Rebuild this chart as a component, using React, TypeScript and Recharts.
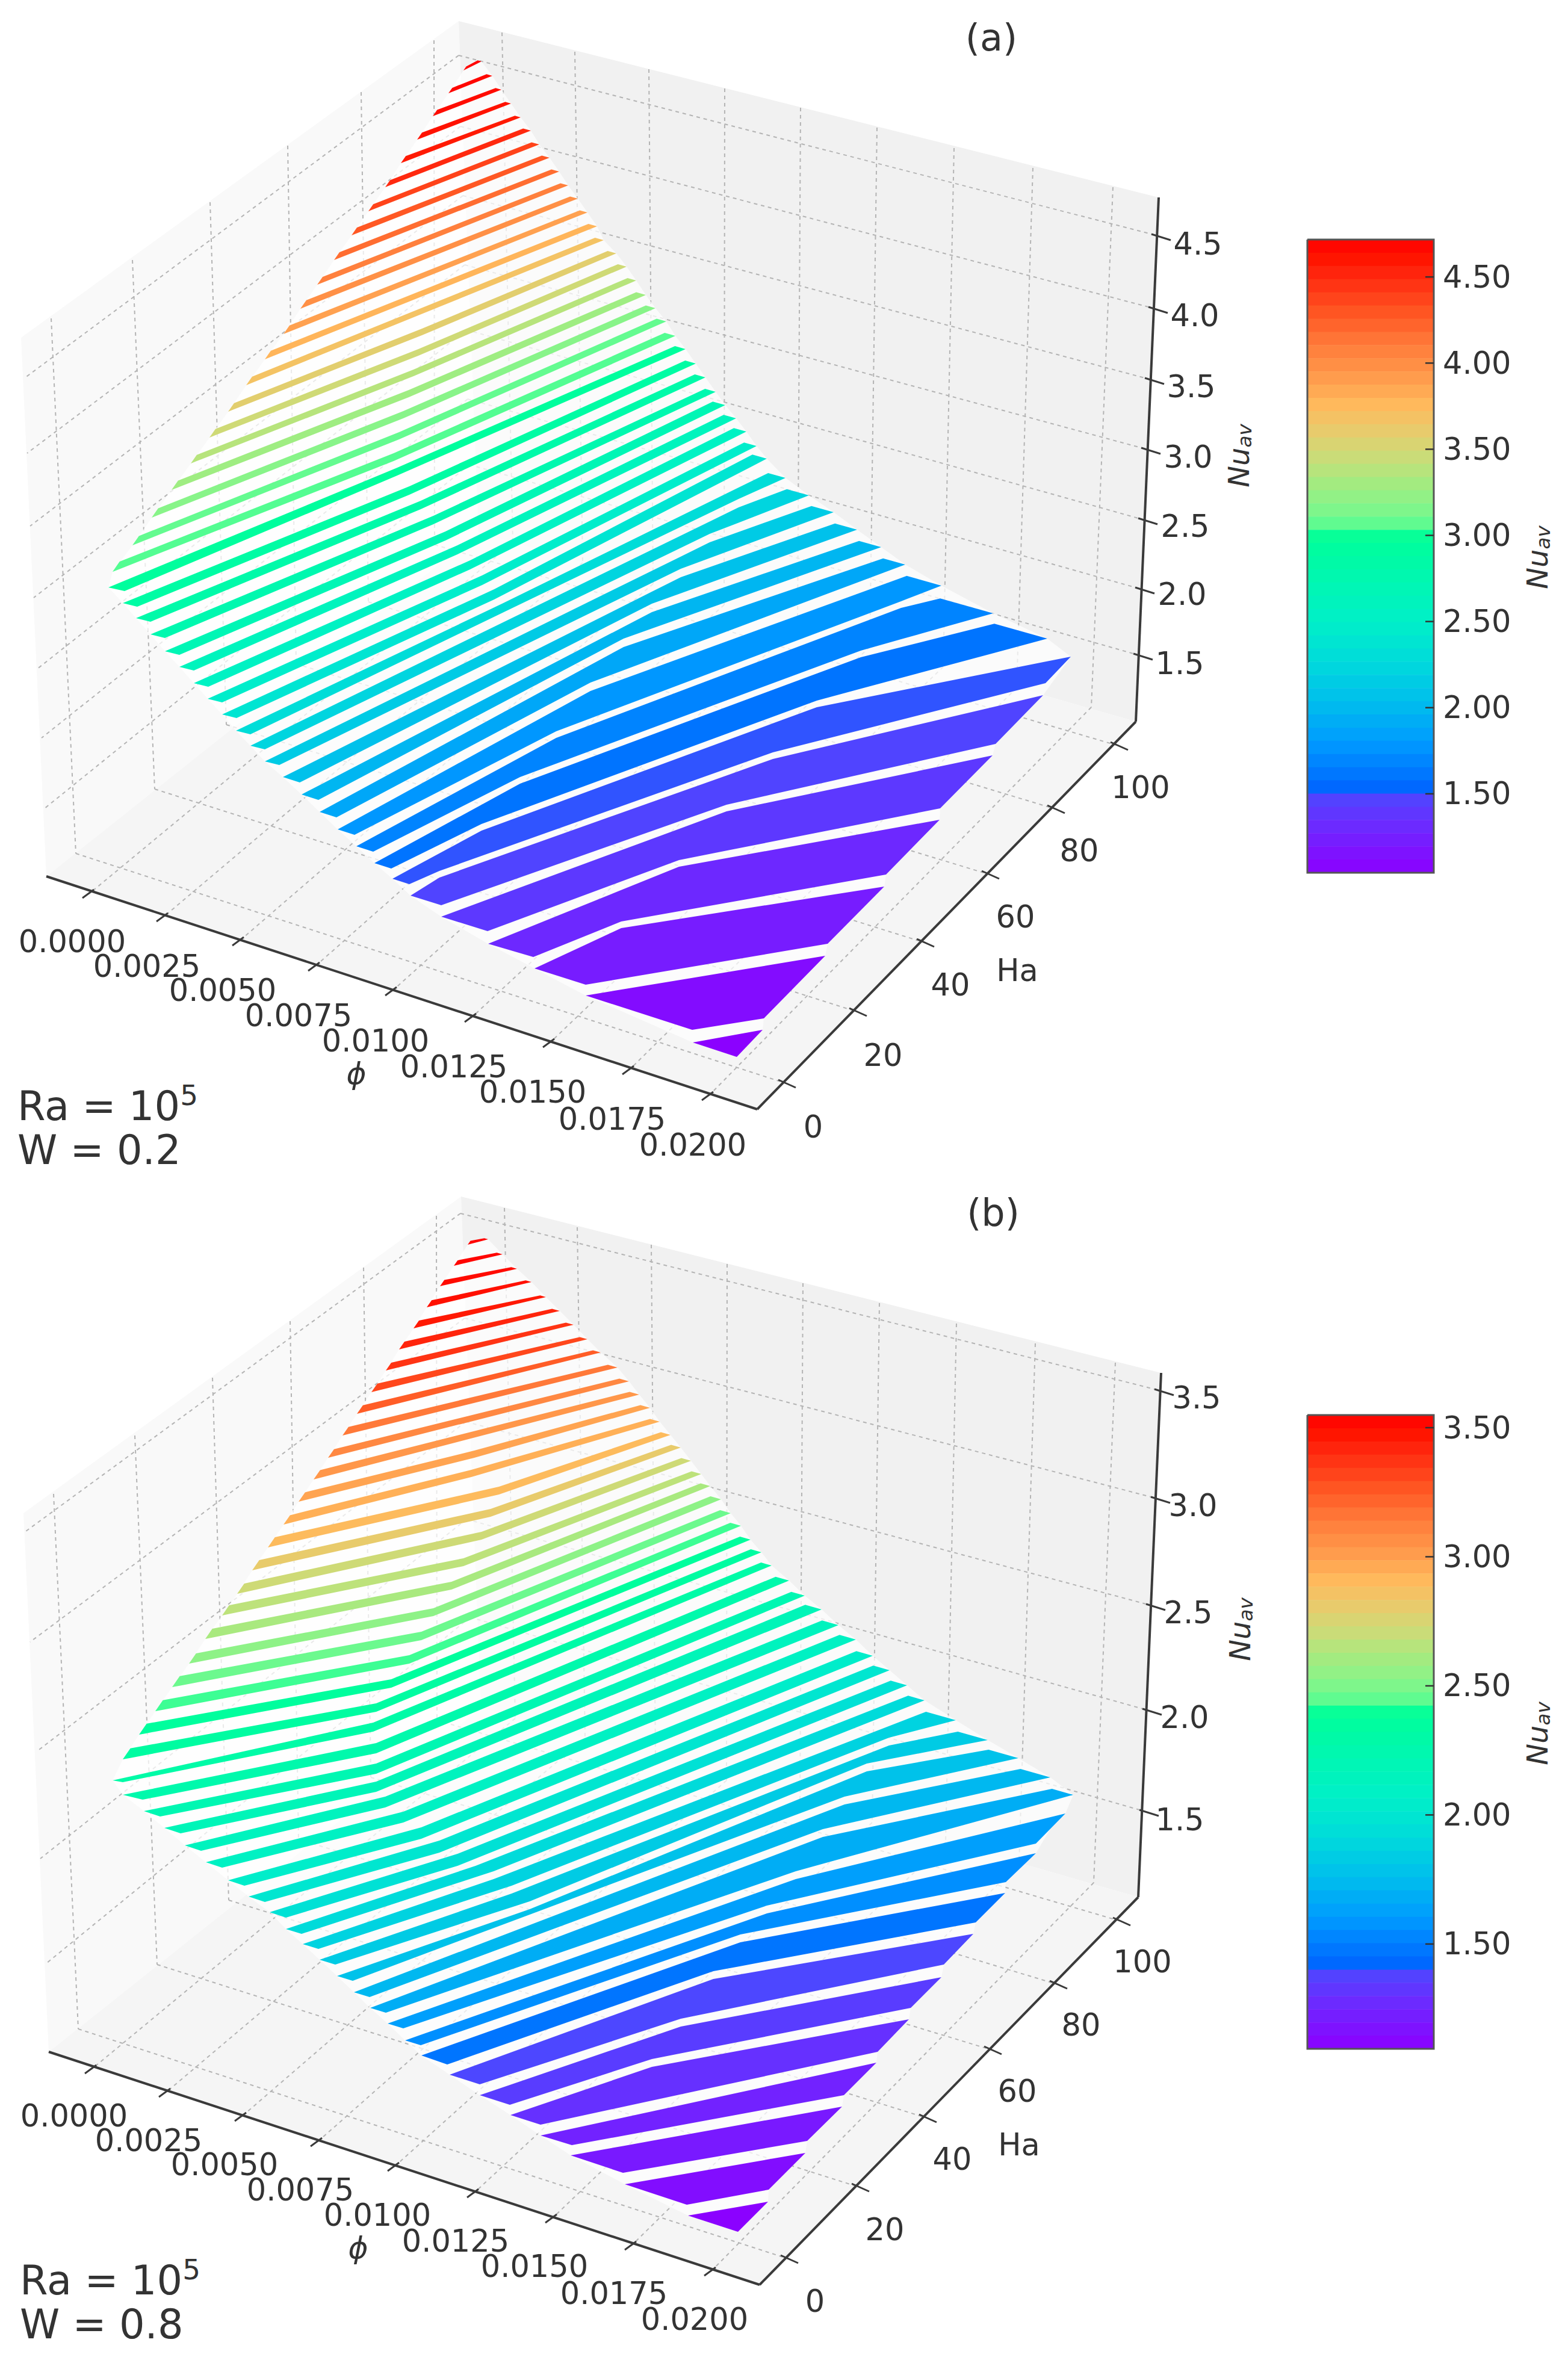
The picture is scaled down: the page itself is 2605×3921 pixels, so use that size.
import { ComposedChart, Area, Line, Scatter, XAxis, YAxis } from 'recharts';

type Pt = [number, number];
type Bend = [number, number, number];

const CANVAS_W = 2605;
const CANVAS_H = 3921;

// colormap: [fraction of bar from bottom, colour]
const colorStops: [number, string][] = [
  [0, '#8c00ff'], [0.077, '#6a2cff'], [0.129, '#4a4aff'], [0.132, '#0066ff'], [0.202, '#0098ff'],
  [0.258, '#00b8f0'], [0.327, '#00d8dd'], [0.397, '#00f0c8'], [0.53, '#00ff99'], [0.544, '#55fd92'],
  [0.578, '#85f58a'], [0.62, '#a8ea7f'], [0.655, '#c9dd78'], [0.704, '#ecc96a'], [0.739, '#ffb95c'],
  [0.774, '#ffa04f'], [0.836, '#ff7a3a'], [0.885, '#ff5522'], [0.94, '#ff2a10'], [0.969, '#ff1500'], [1, '#ff0000'],
];

// panel (a): stripes of the surface, projected onto the page
const leftTipsA: Pt[] = [
  [770, 117], [745, 155], [719, 193], [693, 232], [666, 271], [640, 311], [612, 351], [584, 391], [555, 432], [527, 473],
  [499, 513], [471, 555], [440, 597], [409, 640], [379, 684], [348, 727], [317, 770], [285, 814], [252, 860], [220, 906],
  [187, 950], [180, 976], [204, 1002], [226, 1027], [250, 1054], [274, 1082], [298, 1108], [322, 1135], [345, 1161], [369, 1187],
  [392, 1214], [416, 1239], [440, 1265], [470, 1291], [501, 1320], [531, 1349], [561, 1378], [592, 1406], [622, 1434], [652, 1460],
  [682, 1488], [733, 1523], [811, 1568], [888, 1609], [973, 1654], [1151, 1732],
];
const rightTipsA: Pt[] = [
  [800, 102], [818, 126], [833, 149], [849, 172], [865, 195], [882, 217], [896, 240], [913, 262], [929, 285], [944, 308],
  [960, 330], [976, 353], [992, 376], [1003, 399], [1024, 421], [1041, 443], [1057, 466], [1073, 490], [1089, 512], [1107, 534],
  [1122, 558], [1139, 580], [1156, 604], [1172, 627], [1189, 651], [1205, 673], [1223, 695], [1240, 717], [1257, 741], [1274, 762],
  [1305, 794], [1344, 823], [1385, 851], [1424, 880], [1464, 909], [1504, 938], [1564, 973], [1650, 1019], [1740, 1061], [1779, 1091],
  [1733, 1155], [1649, 1255], [1561, 1362], [1469, 1473], [1371, 1588], [1267, 1711],
];
const leftCutsA: Record<number, Pt> = {
  21: [27, 6], 22: [24, 6], 23: [24, 6], 24: [24, 6], 25: [24, 6], 26: [24, 6], 27: [24, 6], 28: [24, 6], 29: [24, 6], 30: [24, 6],
  31: [24, 6], 32: [24, 6], 33: [28, 9], 34: [28, 9], 35: [28, 9], 36: [28, 9], 37: [28, 9], 38: [28, 9], 39: [28, 9],
  40: [51, 16], 41: [77, 24], 42: [75, 22], 43: [85, 27], 44: [177, 57], 45: [73, 24],
};
const rightCutsA: Record<number, Pt> = {
  39: [1737, 1135], 40: [1654, 1236], 41: [1562, 1343], 42: [1472, 1453], 43: [1375, 1568], 44: [1269, 1692],
};
const thickLeftA = [5, 7, 8, 9, 9, 9, 9, 10, 10, 10, 11, 11, 11, 11, 11, 11, 11, 12, 12, 12, 13];
const thickRightA = [
  4, 6, 6, 6, 6, 8, 8, 8, 8, 8, 8, 8, 9, 9, 9, 9, 9, 10, 10, 10, 11, 11, 11, 11, 11, 13, 13, 13, 13, 15,
  18, 23, 23, 23, 23, 23, 36, 55, 55, 0, 0, 0, 0, 0, 0, 0,
];
const bendsA: Bend[][] = [
  [], [], [], [], [], [], [], [], [], [], [], [], [], [],
  [[701, 546, 11]], [[695, 580, 11]], [[687, 614, 11]], [[679, 648, 12]], [[670, 683, 12]], [[663, 718, 12]],
  [[654, 753, 13]], [[660, 777, 13]], [[680, 808, 14]], [[699, 832, 14]], [[720, 857, 14]], [[740, 883, 15]],
  [[760, 906, 15]], [[781, 931, 15]], [[801, 956, 16]], [[821, 979, 17]], [[834, 1003, 18]],
  [[1227, 843, 22]], [[1179, 901, 23]], [[1131, 959, 24]], [[1083, 1017, 25]], [[1036, 1075, 26]], [[981, 1148, 32]],
  [[924, 1226, 34], [1497, 1010, 48]], [[864, 1302, 36], [1430, 1092, 50]], [[800, 1380, 36], [1357, 1175, 43]],
  [[730, 1458, 46], [1284, 1261, 45]], [[1207, 1348, 50]], [[1128, 1440, 58]], [[1032, 1542, 62]], [], [],
];
// white gap kept to the next stripe where the stripes nearly touch
const gapsA: Record<number, number> = {
  30: 14, 31: 14, 32: 14, 33: 14, 34: 14, 35: 14, 36: 11, 37: 11, 38: 11, 39: 11, 40: 11, 41: 11, 42: 11, 43: 11,
};
const nuA = [
  4.7, 4.68, 4.65, 4.62, 4.58, 4.5, 4.38, 4.28, 4.18, 4.08, 3.98, 3.88, 3.78, 3.68, 3.58, 3.48, 3.38, 3.28, 3.18, 3.08,
  3.04, 2.95, 2.88, 2.82, 2.76, 2.7, 2.62, 2.55, 2.47, 2.38, 2.3, 2.22, 2.14, 2.06, 1.98, 1.88, 1.78, 1.68, 1.6, 1.52,
  1.48, 1.4, 1.3, 1.22, 1.12, 1.05,
];

// panel (b)
const leftTipsB: Pt[] = [
  [777, 2068], [754, 2103], [731, 2137], [709, 2172], [687, 2207], [663, 2242], [641, 2277], [617, 2313], [593, 2349], [569, 2385],
  [545, 2422], [521, 2458], [496, 2495], [471, 2533], [445, 2571], [419, 2609], [394, 2648], [369, 2684], [341, 2723], [314, 2764],
  [286, 2803], [258, 2843], [231, 2882], [204, 2923], [187, 2958], [204, 2982], [239, 3009], [273, 3037], [307, 3066], [342, 3094],
  [379, 3124], [413, 3151], [448, 3177], [475, 3205], [503, 3230], [531, 3256], [560, 3283], [588, 3310], [615, 3336], [644, 3362],
  [673, 3390], [700, 3415], [747, 3447], [797, 3481], [848, 3514], [898, 3548], [948, 3581], [1038, 3629], [1143, 3681],
];
const rightTipsB: Pt[] = [
  [811, 2059], [835, 2084], [859, 2108], [883, 2130], [907, 2155], [930, 2178], [953, 2201], [976, 2225], [998, 2247], [1026, 2272],
  [1045, 2295], [1062, 2317], [1080, 2339], [1096, 2362], [1114, 2384], [1131, 2405], [1148, 2427], [1165, 2449], [1180, 2469], [1198, 2491],
  [1214, 2514], [1231, 2535], [1247, 2558], [1265, 2579], [1282, 2601], [1311, 2626], [1337, 2651], [1365, 2674], [1393, 2700], [1422, 2724],
  [1450, 2751], [1478, 2775], [1507, 2800], [1536, 2825], [1588, 2858], [1641, 2891], [1692, 2921], [1745, 2953], [1783, 2982], [1770, 3013],
  [1721, 3079], [1670, 3145], [1617, 3213], [1564, 3285], [1510, 3355], [1456, 3427], [1399, 3500], [1338, 3577], [1276, 3658],
];
const leftCutsB: Record<number, Pt> = {
  24: [17, 3], 25: [33, 8], 26: [27, 9], 27: [27, 9], 28: [27, 9], 29: [27, 9], 30: [27, 9], 31: [27, 9], 32: [27, 9],
  33: [26, 8], 34: [26, 8], 35: [26, 8], 36: [26, 8], 37: [26, 8], 38: [26, 8], 39: [26, 8], 40: [26, 8],
  41: [43, 15], 42: [50, 16], 43: [50, 16], 44: [50, 16], 45: [52, 16], 46: [87, 29], 47: [103, 34], 48: [83, 27],
};
const rightCutsB: Record<number, Pt> = {
  39: [1721, 3063], 40: [1671, 3127], 41: [1621, 3194], 42: [1568, 3264], 43: [1513, 3336], 44: [1458, 3409],
  45: [1402, 3481], 46: [1341, 3557], 47: [1277, 3638],
};
const thickLeftB = [5, 7, 8, 9, 10, 10, 10, 11, 11, 11, 11, 12, 12, 12, 13, 13, 13, 13, 13, 13, 14, 14, 14, 14];
const thickRightB = [
  4, 6, 6, 6, 6, 8, 8, 8, 8, 10, 10, 10, 10, 10, 10, 10, 10, 10, 10, 11, 11, 11, 11, 11, 11, 14, 14, 17, 17, 17,
  17, 17, 17, 17, 31, 31, 31, 31, 22, 0, 0, 0, 0, 0, 0, 0, 0, 0, 0,
];
const bendsB: Bend[][] = [
  [], [], [], [], [], [], [], [], [], [], [], [],
  [[788, 2410, 12]], [[783, 2442, 12]], [[829, 2470, 13]], [[815, 2507, 13]], [[800, 2545, 13]],
  [[770, 2589, 13]], [[750, 2628, 13]], [[720, 2672, 13]], [[700, 2711, 14]], [[680, 2750, 14]], [[650, 2790, 14]],
  [[625, 2830, 14]], [[620, 2862, 15]], [[625, 2896, 17]], [[625, 2930, 17]], [[625, 2960, 17]], [[640, 2985, 18]], [[670, 3010, 18]],
  [[700, 3036, 19]], [[730, 3058, 20]], [[760, 3080, 20]], [[790, 3100, 21]], [[820, 3122, 24]],
  [[850, 3146, 26], [1477, 2900, 30]], [[880, 3172, 25], [1440, 2943, 34]], [[1403, 2998, 34]], [[1367, 3052, 34]], [[1322, 3122, 36]],
  [[1274, 3179, 36]], [[1230, 3227, 36]], [[1185, 3288, 38]], [[1131, 3367, 38]], [[1083, 3434, 40]], [], [], [], [],
];
const gapsB: Record<number, number> = {
  33: 13, 34: 13, 35: 13, 36: 13, 37: 13, 38: 13, 39: 13, 40: 13, 41: 13, 42: 13, 43: 13, 44: 13, 45: 13, 46: 13, 47: 13,
};
const nuB = [
  3.54, 3.53, 3.51, 3.49, 3.46, 3.42, 3.37, 3.31, 3.24, 3.15, 3.09, 3.03, 2.98, 2.94, 2.9, 2.81, 2.72, 2.67, 2.62, 2.54,
  2.47, 2.42, 2.37, 2.34, 2.3, 2.26, 2.22, 2.18, 2.14, 2.1, 2.05, 2.0, 1.96, 1.92, 1.87, 1.83, 1.78, 1.73, 1.68, 1.62,
  1.56, 1.47, 1.4, 1.35, 1.3, 1.24, 1.2, 1.15, 1.1,
];

// 3D frame of panel (a); panel (b) is the same frame moved down the page
const paneLeft: Pt[] = [[762, 35], [35, 561], [77, 1456], [795, 885]];
const paneRight: Pt[] = [[762, 35], [1925, 328], [1887, 1199], [795, 885]];
const paneFloor: Pt[] = [[77, 1456], [795, 885], [1887, 1199], [1258, 1843]];
const leftWallTops: Pt[] = [[85, 529], [220, 432], [349, 336], [478, 242], [600, 153], [721, 67]];
const haFloorBack: Pt[] = [[126, 1418], [257, 1311], [376, 1204], [492, 1103], [612, 1000], [722, 905]];
const rightWallTops: Pt[] = [[834, 54], [955, 86], [1078, 115], [1204, 147], [1330, 179], [1457, 212], [1585, 246], [1716, 279], [1849, 311]];
const phiFloorBack: Pt[] = [[852, 902], [968, 935], [1085, 970], [1203, 1005], [1325, 1040], [1445, 1075], [1567, 1108], [1689, 1143], [1813, 1175]];
const phiAxisTicks: Pt[] = [[148, 1485], [271, 1524], [397, 1564], [523, 1606], [651, 1647], [783, 1691], [913, 1733], [1045, 1778], [1177, 1821]];
const haAxisTicks: Pt[] = [[1306, 1800], [1424, 1681], [1536, 1566], [1644, 1453], [1753, 1344], [1858, 1239]];

const nuGridLeftA: Pt[] = [[41, 628], [45, 753], [50, 874], [56, 993], [61, 1112], [69, 1226], [73, 1344]];
const nuGridBackA: Pt[] = [[762, 92], [765, 210], [769, 325], [772, 440], [775, 548], [777, 663], [780, 772]];
const nuGridRightA: Pt[] = [[1913, 389], [1908, 510], [1902, 628], [1896, 744], [1891, 861], [1886, 976], [1883, 1086]];
const nuGridLeftB: Pt[] = [[43, 2544], [50, 2728], [61, 2910], [67, 3088], [77, 3262]];
const nuGridBackB: Pt[] = [[765, 2016], [772, 2190], [774, 2362], [775, 2524], [781, 2687]];
const nuGridRightB: Pt[] = [[1918, 2308], [1912, 2487], [1904, 2665], [1898, 2839], [1893, 3007]];

// tick labels
const phiLabels = ['0.0000', '0.0025', '0.0050', '0.0075', '0.0100', '0.0125', '0.0150', '0.0175', '0.0200'];
const phiLabelAt: Pt[] = [[120, 1564], [244, 1605], [370, 1645], [496, 1687], [624, 1729], [754, 1772], [885, 1814], [1017, 1859], [1151, 1902]];
const haLabels = ['0', '20', '40', '60', '80', '100'];
const haLabelAt: Pt[] = [[1351, 1872], [1467, 1753], [1579, 1636], [1687, 1523], [1793, 1413], [1895, 1308]];
const nuLabelsA = ['4.5', '4.0', '3.5', '3.0', '2.5', '2.0', '1.5'];
const nuLabelAtA: Pt[] = [[1990, 405], [1985, 524], [1979, 642], [1974, 759], [1969, 874], [1964, 987], [1960, 1102]];
const nuLabelsB = ['3.5', '3.0', '2.5', '2.0', '1.5'];
const nuLabelAtB: Pt[] = [[1988, 2322], [1982, 2501], [1974, 2679], [1968, 2853], [1960, 3023]];

const barTicksA = [4.5, 4.0, 3.5, 3.0, 2.5, 2.0, 1.5];
const barTicksB = [3.5, 3.0, 2.5, 2.0, 1.5];
const barRangeA: Pt = [1.042, 4.717];
const barRangeB: Pt = [1.094, 3.549];

const FRAME_B: Pt = [4, 1953];
const LABEL_B: Pt = [3, 1951];

const hexToRgb = (h: string) => [1, 3, 5].map((i) => parseInt(h.slice(i, i + 2), 16));

function colorAt(t: number) {
  const v = Math.max(0, Math.min(1, t));
  for (let i = 1; i < colorStops.length; i++) {
    if (v <= colorStops[i][0]) {
      const [t0, c0] = colorStops[i - 1];
      const [t1, c1] = colorStops[i];
      const f = (v - t0) / (t1 - t0);
      const a = hexToRgb(c0);
      const b = hexToRgb(c1);
      return `rgb(${a.map((x, k) => Math.round(x + (b[k] - x) * f)).join(',')})`;
    }
  }
  return colorStops[colorStops.length - 1][1];
}

// an Area can only fill between two y values per x, so cut a polygon into upper and lower chains
function polygonToBand(poly: Pt[]) {
  const n = poly.length;
  let lo = 0;
  let hi = 0;
  poly.forEach((p, i) => {
    if (p[0] < poly[lo][0]) lo = i;
    if (p[0] > poly[hi][0]) hi = i;
  });
  const walk = (step: number) => {
    const chain: Pt[] = [poly[lo]];
    let i = lo;
    while (i !== hi) {
      i = (i + step + n) % n;
      chain.push(poly[i]);
    }
    return chain;
  };
  const yOn = (chain: Pt[], x: number) => {
    for (let i = 1; i < chain.length; i++) {
      const [x0, y0] = chain[i - 1];
      const [x1, y1] = chain[i];
      if (x1 !== x0 && x >= x0 && x <= x1) return y0 + ((y1 - y0) * (x - x0)) / (x1 - x0);
    }
    return chain[chain.length - 1][1];
  };
  const a = walk(1);
  const b = walk(-1);
  const xs = Array.from(new Set(poly.map((p) => p[0]))).sort((p, q) => p - q);
  return xs.map((px) => {
    const y0 = yOn(a, px);
    const y1 = yOn(b, px);
    return { px, band: [Math.min(y0, y1), Math.max(y0, y1)] };
  });
}

interface PanelStripes {
  lefts: Pt[];
  rights: Pt[];
  leftCuts: Record<number, Pt>;
  rightCuts: Record<number, Pt>;
  thickLeft: number[];
  thickRight: number[];
  bends: Bend[][];
  gaps: Record<number, number>;
  nu: number[];
  range: Pt;
}

function stripeOutline(s: PanelStripes, i: number): Pt[] {
  const L = s.lefts[i];
  const R = s.rights[i];
  const cut = s.leftCuts[i];
  const bend = s.bends[i] ?? [];
  const rc = s.rightCuts[i];
  const tr = s.thickRight[i] ?? 0;
  const poly: Pt[] = [L];
  if (!cut) {
    const t = s.thickLeft[i] ?? 10;
    poly.push([L[0] + 0.9 * t, L[1] - 1.3 * t]);
  }
  bend.forEach(([x, y]) => poly.push([x, y]));
  if (!rc && tr > 0) poly.push([R[0] - 1.6 * tr, R[1] - 0.45 * tr]);
  poly.push(R);
  if (rc) poly.push(rc);
  const gap = s.gaps[i];
  if (gap !== undefined) {
    // lower edge follows the top edge of the stripe below it
    const xMin = (cut ? L[0] + cut[0] : L[0]) + 4;
    const xMax = (rc ? rc[0] : R[0]) - 4;
    const under = (s.bends[i + 1] ?? []).filter(([x]) => x > xMin && x < xMax);
    [...under].reverse().forEach(([x, y]) => poly.push([x, y - gap]));
  } else {
    [...bend].reverse().forEach(([x, y, t]) => poly.push([x, y + t]));
  }
  if (cut) poly.push([L[0] + cut[0], L[1] + cut[1]]);
  return poly;
}

function surfaceOutline(s: PanelStripes): Pt[] {
  const corner = s.lefts.reduce((best, p, i) => (p[0] < s.lefts[best][0] ? i : best), 0);
  const far = s.rights.reduce((best, p, i) => (p[0] > s.rights[best][0] ? i : best), 0);
  const poly: Pt[] = [];
  for (let i = corner; i >= 0; i--) poly.push(s.lefts[i]);
  for (let i = 0; i <= far; i++) poly.push(s.rights[i]);
  for (let i = far + 1; i < s.rights.length; i++) {
    poly.push(s.rights[i]);
    if (s.rightCuts[i]) poly.push(s.rightCuts[i]);
  }
  for (let i = s.lefts.length - 1; i > corner; i--) poly.push(s.lefts[i]);
  return poly;
}

const stripesA: PanelStripes = {
  lefts: leftTipsA, rights: rightTipsA, leftCuts: leftCutsA, rightCuts: rightCutsA,
  thickLeft: thickLeftA, thickRight: thickRightA, bends: bendsA, gaps: gapsA, nu: nuA, range: barRangeA,
};
const stripesB: PanelStripes = {
  lefts: leftTipsB, rights: rightTipsB, leftCuts: leftCutsB, rightCuts: rightCutsB,
  thickLeft: thickLeftB, thickRight: thickRightB, bends: bendsB, gaps: gapsB, nu: nuB, range: barRangeB,
};

const shift = (p: Pt, d: Pt): Pt => [p[0] + d[0], p[1] + d[1]];

function poly(key: string, pts: Pt[], fill: string, z: number, opacity = 1) {
  return (
    <Area
      key={key}
      data={polygonToBand(pts)}
      dataKey="band"
      type="linear"
      stroke="none"
      fill={fill}
      fillOpacity={opacity}
      dot={false}
      activeDot={false}
      isAnimationActive={false}
      zIndex={z}
    />
  );
}

function seg(key: string, pts: Pt[], color: string, width: number, z: number, dash?: string) {
  return (
    <Line
      key={key}
      data={pts.map(([px, py]) => ({ px, py }))}
      dataKey="py"
      type="linear"
      stroke={color}
      strokeWidth={width}
      strokeDasharray={dash}
      dot={false}
      activeDot={false}
      isAnimationActive={false}
      zIndex={z}
    />
  );
}

const GRID = '#b4b4b4';
const INK = '#3a3a3a';

function framePanel(id: string, d: Pt, nuLeft: Pt[], nuBack: Pt[], nuRight: Pt[]) {
  const m = (p: Pt) => shift(p, d);
  const out: JSX.Element[] = [
    poly(`${id}-pl`, paneLeft.map(m), '#f9f9f9', 10),
    poly(`${id}-pr`, paneRight.map(m), '#f1f1f1', 10),
    poly(`${id}-pf`, paneFloor.map(m), '#f5f5f5', 11),
  ];
  leftWallTops.forEach((p, i) => out.push(seg(`${id}-lw${i}`, [m(p), m(haFloorBack[i])], GRID, 2, 20, '6 6')));
  haFloorBack.forEach((p, i) => out.push(seg(`${id}-hf${i}`, [m(p), m(haAxisTicks[i])], GRID, 2, 20, '6 6')));
  rightWallTops.forEach((p, i) => out.push(seg(`${id}-rw${i}`, [m(p), m(phiFloorBack[i])], GRID, 2, 20, '6 6')));
  phiFloorBack.forEach((p, i) => out.push(seg(`${id}-pf${i}`, [m(p), m(phiAxisTicks[i])], GRID, 2, 20, '6 6')));
  nuBack.forEach((p, i) => {
    out.push(seg(`${id}-nl${i}`, [p, nuLeft[i]], GRID, 2, 20, '6 6'));
    out.push(seg(`${id}-nr${i}`, [p, nuRight[i]], GRID, 2, 20, '6 6'));
    out.push(seg(`${id}-nt${i}`, [nuRight[i], [nuRight[i][0] + 32, nuRight[i][1] + 10]], INK, 3, 50));
  });
  phiAxisTicks.forEach((p, i) => {
    const q = m(p);
    out.push(seg(`${id}-pt${i}`, [[q[0] - 11, q[1] + 7], [q[0] + 8, q[1] - 7]], INK, 3, 50));
  });
  haAxisTicks.forEach((p, i) => {
    const q = m(p);
    out.push(seg(`${id}-ht${i}`, [[q[0] - 13, q[1] - 6], [q[0] + 16, q[1] + 7]], INK, 3, 50));
  });
  out.push(seg(`${id}-ax1`, [m(paneFloor[0]), m(paneFloor[3])], INK, 4, 50));
  out.push(seg(`${id}-ax2`, [m(paneFloor[3]), m(paneFloor[2])], INK, 4, 50));
  out.push(seg(`${id}-ax3`, [m(paneRight[1]), m(paneRight[2])], INK, 4, 50));
  return out;
}

function surfacePanel(id: string, s: PanelStripes) {
  const [lo, hi] = s.range;
  return [
    poly(`${id}-veil`, surfaceOutline(s), '#ffffff', 30, 0.72),
    ...s.lefts.map((_, i) => poly(`${id}-s${i}`, stripeOutline(s, i), colorAt((s.nu[i] - lo) / (hi - lo)), 40)),
  ];
}

function colorbar(id: string, top: number, bottom: number, range: Pt, ticks: number[]) {
  const BANDS = 48;
  const x0 = 2172;
  const x1 = 2382;
  const h = (bottom - top) / BANDS;
  const out: JSX.Element[] = [];
  for (let k = 0; k < BANDS; k++) {
    const y = top + k * h;
    const rect: Pt[] = [[x0, y], [x1, y], [x1, y + h + 0.5], [x0, y + h + 0.5]];
    out.push(poly(`${id}-b${k}`, rect, colorAt(1 - (k + 0.5) / BANDS), 60));
  }
  out.push(seg(`${id}-box`, [[x0, top], [x1, top], [x1, bottom], [x0, bottom], [x0, top]], '#555555', 3, 61));
  const yOf = (v: number) => bottom - ((v - range[0]) / (range[1] - range[0])) * (bottom - top);
  ticks.forEach((v) => out.push(seg(`${id}-t${v}`, [[x1 - 14, yOf(v)], [x1, yOf(v)]], '#333333', 2.5, 61)));
  return out;
}

interface TextRow {
  px: number;
  py: number;
  text: string;
  size?: number;
  anchor?: string;
  rotate?: number;
  italic?: boolean;
  sup?: string;
  sub?: string;
  base?: boolean;
}

function axisLabels(
  d: Pt,
  nuLabels: string[],
  nuAt: Pt[],
  tag: string,
  tagAt: Pt,
  nuTitleAt: Pt,
  barTitleAt: Pt,
  barTicks: number[],
  barTop: number,
  barBottom: number,
  range: Pt,
  raY: number,
  wY: number,
  wText: string,
): TextRow[] {
  const rows: TextRow[] = [];
  phiLabels.forEach((text, i) => rows.push({ px: phiLabelAt[i][0] + d[0], py: phiLabelAt[i][1] + d[1], text }));
  haLabels.forEach((text, i) => rows.push({ px: haLabelAt[i][0] + d[0], py: haLabelAt[i][1] + d[1], text }));
  nuLabels.forEach((text, i) => rows.push({ px: nuAt[i][0], py: nuAt[i][1], text }));
  barTicks.forEach((v) =>
    rows.push({
      px: 2397,
      py: barBottom - ((v - range[0]) / (range[1] - range[0])) * (barBottom - barTop),
      text: v.toFixed(2),
      anchor: 'start',
    }),
  );
  rows.push({ px: tagAt[0], py: tagAt[1], text: tag, size: 62 });
  rows.push({ px: 1690 + d[0], py: 1612 + d[1], text: 'Ha' });
  rows.push({ px: 592 + d[0], py: 1784 + d[1], text: 'ϕ', italic: true, size: 50 });
  rows.push({ px: nuTitleAt[0], py: nuTitleAt[1], text: 'Nu', sub: 'av', italic: true, rotate: -90, size: 48 });
  rows.push({ px: barTitleAt[0], py: barTitleAt[1], text: 'Nu', sub: 'av', italic: true, rotate: -90, size: 48 });
  rows.push({ px: 29 + (d[1] ? 4 : 0), py: raY, text: 'Ra = 10', sup: '5', size: 67, anchor: 'start', base: true });
  rows.push({ px: 29 + (d[1] ? 4 : 0), py: wY, text: wText, size: 67, anchor: 'start', base: true });
  return rows;
}

const textRows: TextRow[] = [
  ...axisLabels([0, 0], nuLabelsA, nuLabelAtA, '(a)', [1647, 62], [2058, 757], [2554, 926], barTicksA, 398, 1450, barRangeA, 1861, 1934, 'W = 0.2'),
  ...axisLabels(LABEL_B, nuLabelsB, nuLabelAtB, '(b)', [1650, 2014], [2060, 2707], [2554, 2880], barTicksB, 2351, 3404, barRangeB, 3812, 3885, 'W = 0.8'),
];

function TextMark(props: any) {
  const { cx, cy, payload } = props;
  const r: TextRow = payload;
  const size = r.size ?? 51;
  return (
    <text
      x={cx}
      y={cy}
      fontFamily="DejaVu Sans"
      fontSize={size}
      fill="#333333"
      textAnchor={r.anchor ?? 'middle'}
      dominantBaseline={r.base ? 'auto' : 'central'}
      fontStyle={r.italic ? 'italic' : 'normal'}
      transform={r.rotate ? `rotate(${r.rotate} ${cx} ${cy})` : undefined}
    >
      {r.text}
      {r.sup ? (
        <tspan dy={-size * 0.38} fontSize={size * 0.7}>
          {r.sup}
        </tspan>
      ) : null}
      {r.sub ? (
        <tspan dy={size * 0.2} fontSize={size * 0.68}>
          {r.sub}
        </tspan>
      ) : null}
    </text>
  );
}

export default function App() {
  return (
    <div style={{ position: 'absolute', left: 0, top: 0, background: '#ffffff' }}>
      <ComposedChart width={CANVAS_W} height={CANVAS_H} margin={{ top: 0, right: 0, bottom: 0, left: 0 }}>
        <XAxis dataKey="px" type="number" domain={[0, CANVAS_W]} hide allowDataOverflow />
        <YAxis dataKey="py" type="number" domain={[0, CANVAS_H]} reversed hide allowDataOverflow />
        {framePanel('a', [0, 0], nuGridLeftA, nuGridBackA, nuGridRightA)}
        {framePanel('b', FRAME_B, nuGridLeftB, nuGridBackB, nuGridRightB)}
        {surfacePanel('a', stripesA)}
        {surfacePanel('b', stripesB)}
        {colorbar('ca', 398, 1450, barRangeA, barTicksA)}
        {colorbar('cb', 2351, 3404, barRangeB, barTicksB)}
        <Scatter data={textRows} shape={TextMark} isAnimationActive={false} zIndex={70} />
      </ComposedChart>
    </div>
  );
}
